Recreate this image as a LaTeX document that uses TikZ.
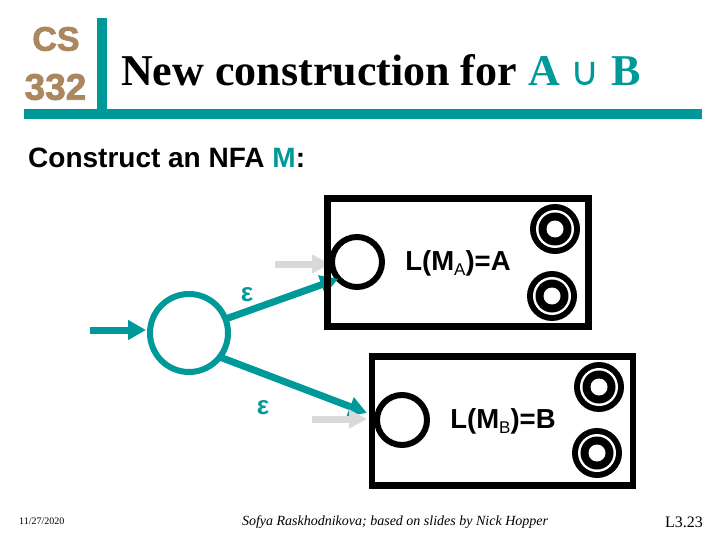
\documentclass[tikz,border=0pt]{standalone}
\usepackage{fontspec}
\setmainfont{Liberation Serif}
\newfontfamily\arialfont{Liberation Sans}
\newfontfamily\logofont[BoldFeatures={FakeBold=2}]{Liberation Sans}
\newfontfamily\symbfont{DejaVu Sans}
\usepackage{xcolor}
\usetikzlibrary{calc,arrows.meta,positioning}
\definecolor{slideteal}{RGB}{0,153,153}
\definecolor{logotan}{RGB}{170,135,95}
\definecolor{grayarrow}{RGB}{217,217,217}
\tikzset{
    statecirc/.style={circle, draw=#1, line width=6pt, inner sep=0pt, outer sep=0pt, minimum size=50pt},
    edgearrow/.style={line width=7pt, slideteal, -{Triangle[length=18pt,width=19pt]}},
    entryarrow/.style={line width=7pt, grayarrow, -{Triangle[length=18pt,width=18pt]}},
    machinebox/.style={draw=black, line width=6.5pt, inner sep=0pt, outer sep=0pt},
    finalring/.style={circle, fill=black, inner sep=0pt, outer sep=0pt, minimum size=50pt},
    eps/.style={text=slideteal, font=\arialfont\bfseries\fontsize{26}{26}\selectfont},
    machinelabel/.style={font=\arialfont\bfseries\fontsize{27.5}{30}\selectfont, text=black}
}
\newcommand{\acceptstate}[2]{%
    \node[finalring] (#1) at (#2) {};
    \fill[white] (#1) circle (19);
    \fill[black] (#1) circle (16.5);
    \fill[white] (#1) circle (8.5);
}
\newcommand{\subtext}[1]{\raisebox{-5pt}{\mdseries\fontsize{17}{17}\selectfont #1}}
\begin{document}
\begin{tikzpicture}[x=1pt, y=-1pt, >=Stealth]
    \useasboundingbox (0,0) rectangle (720,540);
    \fill[white] (0,0) rectangle (720,540);

    % Header bars
    \fill[slideteal] (97,18) rectangle (107,110);
    \fill[slideteal] (24,109) rectangle (702,119);

    % Course logo
    \node[text=logotan, font=\logofont\bfseries\fontsize{34}{34}\selectfont] (logoCS) at (56,39) {CS};
    \node[text=logotan, font=\logofont\bfseries\fontsize{37}{37}\selectfont] (logoNum) at (55.5,87) {332};

    % Title and subtitle
    \node[anchor=base west, inner sep=0pt, font=\bfseries\fontsize{44}{48}\selectfont] (title) at (121,86)
        {New construction for \textcolor{slideteal}{A} {\symbfont\mdseries\fontsize{40}{40}\selectfont\textcolor{slideteal}{∪}} \textcolor{slideteal}{B}};
    \node[anchor=base west, inner sep=0pt, font=\arialfont\bfseries\fontsize{28}{30}\selectfont] (subtitle) at (28,168)
        {Construct an NFA \textcolor{slideteal}{M}:};

    % New start state and the two start states it leads to
    \node[statecirc=slideteal, minimum size=78pt] (q0) at (189,333) {};
    \node[statecirc=black] (a0) at (357,262) {};
    \node[statecirc=black] (b0) at (402,420) {};

    % Free ends of the arrows
    \coordinate (start) at (90,330);
    \coordinate (entryA) at (275,264);
    \coordinate (entryAend) at (330,264);
    \coordinate (entryB) at (312,419);
    \coordinate (entryBend) at (367,419);
    \coordinate (edgeBend) at (367,413);

    % Teal arrows
    \draw[edgearrow, shorten >=4pt] (start) -- (q0.west |- start);
    \draw[edgearrow] (q0.21) -- (a0.222);
    \draw[edgearrow] (q0.-38) -- (edgeBend);

    % Grey entry arrows of the old machines
    \draw[entryarrow] (entryA) -- (entryAend);
    \draw[entryarrow] (entryB) -- (entryBend);

    % Machine boxes
    \node[machinebox, minimum width=261pt, minimum height=128pt] (boxA) at (458,262.5) {};
    \node[machinebox, minimum width=261pt, minimum height=129pt] (boxB) at (502.5,421) {};

    % Accepting states
    \acceptstate{a1}{555,229}
    \acceptstate{a2}{552,296}
    \acceptstate{b1}{599,387}
    \acceptstate{b2}{597,453}

    % Labels
    \node[eps] (epsA) at (247,295) {ε};
    \node[eps] (epsB) at (263,408) {ε};
    \node[machinelabel] (langA) at (458,263) {L(M\subtext{A})=A};
    \node[machinelabel] (langB) at (503,421) {L(M\subtext{B})=B};

    % Footer
    \node[anchor=base west, inner sep=0pt, font=\fontsize{10}{12}\selectfont] (date) at (19,524) {11/27/2020};
    \node[anchor=base, inner sep=0pt, font=\itshape\fontsize{14}{16}\selectfont] (credit) at (395,525)
        {Sofya Raskhodnikova; based on slides by Nick Hopper};
    \node[anchor=base east, inner sep=0pt, font=\fontsize{16}{18}\selectfont] (page) at (703,527) {L3.23};
\end{tikzpicture}
\end{document}
